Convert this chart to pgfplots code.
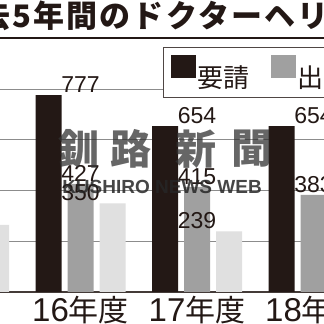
\documentclass[border=0pt]{standalone}
\usepackage{fontspec}
\setmainfont{Noto Sans CJK JP}
\newfontfamily\lat{Liberation Sans}
\newfontfamily\titlefont{Noto Sans CJK JP}[LetterSpace=7]
\usepackage{pgfplots}
\pgfplotsset{compat=1.18}
\definecolor{ink}{HTML}{231815}
\definecolor{midg}{HTML}{A0A0A0}
\definecolor{lightg}{HTML}{E0E0E0}
\newcommand{\yr}[1]{{\fontsize{30}{30}\selectfont{\lat\fontsize{33}{33}\selectfont #1}年度}}
\pgfplotsset{sq/.style={legend image code/.code={\fill[##1] (0pt,-1.5pt) rectangle (25pt,21.5pt);}}}
\begin{document}
\begin{tikzpicture}
\useasboundingbox (0,0) rectangle (324pt,324pt);
\clip (0,0) rectangle (324pt,324pt);
\fill[white] (0,0) rectangle (324pt,324pt);
\begin{axis}[
  at={(0pt,32pt)}, anchor=south west,
  scale only axis, width=324pt, height=202.8pt,
  xmin=0.309, xmax=3.090, ymin=0, ymax=800,
  clip=false,
  axis x line*=bottom, axis y line*=left,
  x axis line style={draw=ink!85, line width=1.3pt},
  y axis line style={draw=none},
  xtick={0,1,2,3}, xticklabels={\yr{15},\yr{16},\yr{17},\yr{18}},
  xticklabel style={anchor=base, yshift=-30pt, text=ink},
  ytick={200,400,600,800}, yticklabels={},
  major tick length=0pt,
  ymajorgrids, grid style={draw=black!45, line width=0.9pt},
  legend style={at={(0.5031,1.2081)}, anchor=north west, draw=ink!80, line width=0.8pt,
    fill=white, inner xsep=8pt, inner ysep=8pt, font=\fontsize{26}{26}\selectfont, text=ink,
    legend columns=-1, /tikz/every even column/.append style={column sep=21pt},
    nodes={inner sep=1pt}},
  nodes near coords,
  /pgf/number format/assume math mode=true,
  every node near coord/.append style={font=\lat\fontsize{23}{23}\selectfont, text=ink, inner sep=0pt, anchor=south, yshift=2pt},
]
\addplot[ybar, bar width=26pt, bar shift=-32pt, fill=ink, draw=none, sq] coordinates {(1,777) (2,654) (3,654)};
\addplot[ybar, bar width=26pt, bar shift=0pt, fill=midg, draw=none, sq] coordinates {(1,427) (2,415) (3,383)};
\addplot[ybar, bar width=26pt, bar shift=32pt, fill=lightg, draw=none, sq] coordinates {(0,265) (1,350) (2,239)};
\legend{要請, 出動}
\end{axis}
% watermark
\begin{scope}[every node/.style={font=\bfseries\fontsize{41}{41}\selectfont, text=black!80, text opacity=0.75}]
\node at (79pt,175pt) {釧};
\node at (131pt,175pt) {路};
\node at (196pt,175pt) {新};
\node at (252pt,175pt) {聞};
\end{scope}
\node[font=\lat\bfseries\fontsize{19}{19}\selectfont, text=black!85, text opacity=0.85] at (162pt,137pt) {KUSHIRO NEWS WEB};
% title
\node[anchor=base west, inner sep=0pt, font=\titlefont\bfseries\fontsize{31}{31}\selectfont, text=ink] at (-21pt,296pt) {去5年間のドクターヘリ出};
\draw[ink, line width=2pt] (0pt,286pt) -- (324pt,286pt);
\end{tikzpicture}
\end{document}
